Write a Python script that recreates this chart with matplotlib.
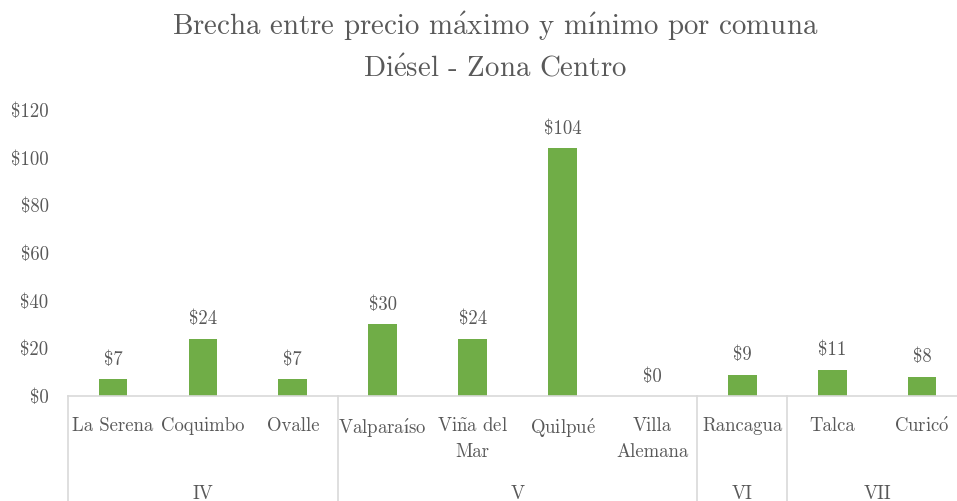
import matplotlib
matplotlib.use("Agg")
import matplotlib.pyplot as plt

# data
comunas = ["La Serena", "Coquimbo", "Ovalle", "Valparaíso", "Viña del\nMar",
           "Quilpué", "Villa\nAlemana", "Rancagua", "Talca", "Curicó"]
brecha = [7, 24, 7, 30, 24, 104, 0, 9, 11, 8]
regiones = ["IV", "V", "VI", "VII"]
n_por_region = [3, 4, 1, 2]
yticks = [0, 20, 40, 60, 80, 100, 120]
titulo = "Brecha entre precio máximo y mínimo por comuna\nDiésel - Zona Centro"

plt.rcParams['font.family'] = ['cmr10', 'DejaVu Serif']
plt.rcParams['mathtext.fontset'] = 'cm'
plt.rcParams['axes.formatter.use_mathtext'] = True

# cmr10 has no accented glyphs, so build them with mathtext accents
acentos = {'á': r'$\mathrm{\acute{a}}$', 'é': r'$\mathrm{\acute{e}}$',
           'í': r'$\mathrm{\acute{\i}}$', 'ó': r'$\mathrm{\acute{o}}$',
           'ñ': r'$\mathrm{\tilde{n}}$'}

def tex(s):
    return "".join(acentos.get(c, c) for c in s)

txt = '#595959'
linec = '#D9D9D9'
green = '#70AD47'
fs = 13.5

fig = plt.figure(figsize=(9.57, 5.01), dpi=100)
ax = fig.add_axes([0.0711, 0.2096, 0.9394, 0.5709])

x = list(range(len(comunas)))
ax.bar(x, brecha, width=0.32, color=green)
for xi, v in zip(x, brecha):
    ax.annotate("$%d" % v, (xi, v), xytext=(0, 14), textcoords='offset points',
                ha='center', va='center', fontsize=fs, color=txt)

ax.set_xlim(-0.5, len(comunas) - 0.5)
ax.set_ylim(0, 120)
ax.set_yticks(yticks)
ax.set_yticklabels(["$%d" % t for t in yticks], fontsize=fs, color=txt)
ax.set_xticks(x)
ax.set_xticklabels([tex(c) for c in comunas], fontsize=fs, color=txt,
                   va='top', linespacing=1.6)
ax.tick_params(axis='both', length=0)
ax.tick_params(axis='x', pad=15)
ax.tick_params(axis='y', pad=14)

for s in ['top', 'right', 'left']:
    ax.spines[s].set_visible(False)
ax.spines['bottom'].set_color(linec)
ax.spines['bottom'].set_linewidth(1.2)

# region groups below the axis
tr = ax.get_xaxis_transform()
start = 0
ax.plot([-0.5, -0.5], [0, -0.5], color=linec, lw=1.2, transform=tr, clip_on=False)
for reg, n in zip(regiones, n_por_region):
    end = start + n
    ax.plot([end - 0.5, end - 0.5], [0, -0.5], color=linec, lw=1.2,
            transform=tr, clip_on=False)
    ax.text((start + end - 1) / 2, -0.342, reg, transform=tr, ha='center',
            va='center', fontsize=fs, color=txt)
    start = end

# title is centred on the whole chart area, which runs past the right edge
lineas = titulo.split("\n")
fig.text(495 / 957, 1 - 26 / 501, tex(lineas[0]), ha='center', va='center',
         fontsize=20.8, color=txt)
fig.text(495 / 957, 1 - 69 / 501, tex(lineas[1]), ha='center', va='center',
         fontsize=20.8, color=txt)

fig.savefig("out.png", dpi=100)
